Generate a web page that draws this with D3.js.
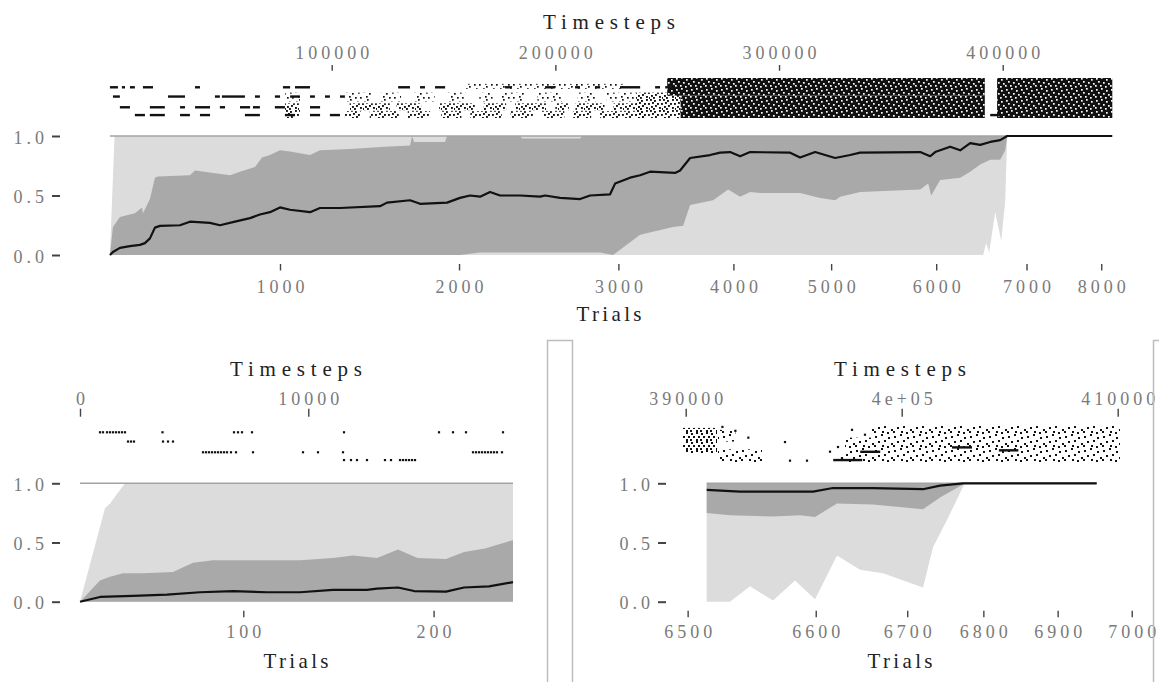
<!DOCTYPE html>
<html>
<head>
<meta charset="utf-8">
<script src="https://cdnjs.cloudflare.com/ajax/libs/d3/7.8.5/d3.min.js"></script>
<style>
  body { margin: 0; background: #fff; }
  svg { display: block; }
</style>
</head>
<body>
<svg id="chart" width="1159" height="682"></svg>
<script>
// trial number -> timestep at which that trial started
const trialMarks = [0, 100, 200, 1000, 2000, 3000, 4000, 5000, 6000, 6500, 6600, 6700, 6800, 6900, 7000, 8000];
const trialSteps = [0, 7153, 15488, 76880, 156930, 228180, 279600, 323300, 370260, 390090, 396020, 400255, 403780, 407220, 410650, 444050];

const yTicks = [0, 0.5, 1];

// ---- full run (top panel), x = timestep, y = proportion ----
const fullStepTicks = [100000, 200000, 300000, 400000];
const fullTrialTicks = [1000, 2000, 3000, 4000, 5000, 6000, 7000, 8000];

const fullMean = [[850,0],[2190,0.025],[5320,0.06],[9790,0.075],[14270,0.085],[16500,0.10],[18740,0.14],
  [20970,0.23],[23210,0.245],[32150,0.25],[36630,0.28],[45570,0.27],[50040,0.25],[56750,0.28],[63460,0.31],
  [67930,0.34],[72410,0.36],[76880,0.40],[81350,0.38],[90300,0.36],[94770,0.395],[103720,0.395],[121600,0.41],
  [124730,0.44],[135020,0.46],[139490,0.43],[151570,0.44],[157380,0.48],[161850,0.50],[166330,0.49],
  [170800,0.53],[175270,0.50],[184220,0.50],[193160,0.49],[195400,0.50],[202100,0.48],[211050,0.47],
  [215520,0.50],[224460,0.51],[226700,0.60],[233410,0.65],[237880,0.67],[242350,0.70],[253530,0.69],
  [255770,0.71],[260240,0.815],[269190,0.84],[273660,0.86],[278130,0.865],[282600,0.83],[287080,0.865],
  [304960,0.86],[309430,0.82],[316140,0.865],[325090,0.815],[331800,0.84],[336270,0.86],[363110,0.865],
  [367580,0.83],[369810,0.865],[376520,0.91],[380990,0.88],[385460,0.94],[389940,0.925],[394410,0.95],
  [398880,0.965],[402010,1.0],[448970,1.0]];
const fullQ75 = [[850,0],[2190,0.235],[5320,0.32],[12030,0.35],[15160,0.40],[15610,0.35],[18740,0.47],
  [20970,0.65],[22320,0.66],[36630,0.67],[38860,0.71],[54520,0.67],[58990,0.70],[65700,0.74],[68830,0.82],
  [72410,0.84],[76880,0.88],[81350,0.87],[90300,0.84],[94770,0.88],[108180,0.89],[123840,0.91],[135020,0.92],
  [135920,1.0],[136810,0.95],[150670,0.95],[151570,1.0],[184220,1.0],[185120,0.98],[211050,0.98],
  [211950,1.0],[402010,1.0]];
const fullQ25 = [[850,0],[157380,0],[166330,0.02],[219990,0.02],[225800,0],[237880,0.17],[252640,0.235],
  [257110,0.245],[260240,0.42],[270530,0.46],[277240,0.55],[282600,0.49],[287080,0.53],[291550,0.52],
  [309430,0.52],[318380,0.48],[325090,0.46],[327330,0.49],[336270,0.53],[363110,0.55],[366690,0.60],
  [368030,0.50],[372050,0.63],[380990,0.65],[385460,0.70],[389940,0.76],[394410,0.80],[398880,0.80],
  [401120,0.88],[402010,1.0]];
const fullMax = [[850,0],[2900,1.0],[402010,1.0]];
const fullMin = [[850,0],[391280,0],[392620,0.1],[393960,0.02],[396650,0.36],[399330,0.12],[401120,0.45],[402010,1.0]];

// raster of events above the top panel: rows A..D
const rasterRows = [3.15, 2.2, 1.1, 0.3];
const fullDashes = [
  [[850,4430],[6200,7600],[9800,12000],[15600,20100],[38900,41100],[78200,81400],[83600,90300],
   [129700,135000],[139500,141700],[146200,150700],[177500,180600],[195400,199900],[208800,211000],
   [217700,220000],[228900,237900],[244600,246800],[249100,252200]],
  [[2200,5300],[26800,34400],[47800,50000],[50900,61200],[65700,67900],[74600,76900],[81400,85800],
   [90300,92500],[97000,99200],[103700,105900]],
  [[5300,9800],[18700,25400],[32200,34400],[38900,45600],[50000,52300],[59000,63500],[64800,67900],
   [74600,79100],[90300,94800]],
  [[12000,16500],[18700,25400],[32200,36600],[41100,45600],[61200,67900],[79100,83600],[90300,94800],
   [99200,103700],[394400,398900]]
];
// [start, end, low row, high row]
const fullSparse = [[79100,85800,1.7,2.6],[105900,118000,1.7,2.6],[122000,131000,1.7,2.6],
  [137000,146000,1.7,2.6],[152000,160000,1.7,2.6],[166000,172000,1.7,2.6],[176000,186000,1.7,2.6],
  [192000,203000,1.7,2.6],[210000,218000,1.7,2.6],[223000,236000,1.7,2.6],[160000,232000,3.0,3.5]];
const fullBusy = [[79100,85800,0,1.5],[108000,126000,0.8,1.5],[129000,140000,0.8,1.5],[148000,164000,0.8,1.5],
  [168000,178000,0.8,1.5],[182000,196000,0.8,1.5],[200000,206000,0.8,1.5],[209000,222000,0.8,1.5],
  [226000,240000,0.8,1.5],[105900,113000,0,0.7],[117000,130000,0,0.7],[134000,144000,0,0.7],
  [149000,158000,0,0.7],[162000,176000,0,0.7],[180000,190000,0,0.7],[194000,204000,0,0.7],
  [208000,216000,0,0.7],[220000,240000,0,0.7],[236000,256000,0,2.6]];
const fullSolid = [[250000,392000,2.3,4.1],[256000,392000,0,2.3],[397500,449000,0,4.1]];

// ---- first trials (bottom left) ----
const earlyStepTicks = [0, 10000];
const earlyTrialTicks = [100, 200];
const earlyMean = [[0,0],[876,0.04],[2321,0.05],[3811,0.06],[5256,0.08],[6702,0.09],[8191,0.08],[9636,0.08],
  [11082,0.10],[12571,0.10],[13009,0.11],[13929,0.12],[14630,0.09],[16031,0.085],[16820,0.12],[17915,0.13],[18966,0.165]];
const earlyQ75 = [[0,0],[876,0.18],[1314,0.21],[1883,0.24],[2760,0.24],[4074,0.25],[4950,0.33],[5826,0.35],
  [9636,0.35],[11082,0.37],[11958,0.39],[13009,0.37],[13929,0.44],[14783,0.37],[16031,0.36],[16820,0.42],
  [17740,0.45],[18966,0.52]];
const earlyQ25 = [[0,0],[18966,0]];
const earlyMax = [[0,0],[1095,0.79],[1314,0.83],[1971,1.0],[18966,1.0]];
const earlyMin = [[0,0],[18966,0]];
const earlyEvents = [
  [876,1007,1183,1314,1445,1577,1708,1840,1971,3614,6745,6921,7096,7534,11564,15725,16338,16908,18528],
  [2102,2234,2365,3636,3855,4074],
  [5388,5519,5650,5782,5913,6045,6176,6308,6439,6614,6833,7578,9768,10425,11520,17214,17346,17477,
   17608,17740,17871,18003,18134,18265,18484],
  [11564,11870,12133,12571,13359,13622,14017,14148,14279,14411,14542,14674]
];

// ---- late trials (bottom right) ----
const lateStepTicks = [390000, 400000, 410000];
const lateStepLabels = ["390000", "4e+05", "410000"];
const lateTrialTicks = [6500, 6600, 6700, 6800, 6900, 7000];
const lateMean = [[390972,0.945],[392514,0.93],[394042,0.93],[395894,0.93],[396819,0.96],[398671,0.96],
  [400986,0.95],[401773,0.98],[402838,1.0],[409028,1.0]];
const lateQ75 = [[390972,1],[402950,1]];
const lateQ25 = [[390972,0.75],[392051,0.73],[394042,0.72],[395292,0.73],[395986,0.715],[397005,0.83],
  [398671,0.82],[400986,0.78],[401773,0.88],[402838,0.99],[402950,1.0]];
const lateMax = [[390972,1],[402950,1]];
const lateMin = [[390972,0],[392051,0],[392977,0.13],[394042,0.01],[395060,0.18],[395986,0.02],[397005,0.39],
  [398069,0.27],[399134,0.24],[400986,0.12],[401449,0.46],[402097,0.69],[402838,0.97],[402950,1.0]];
const lateDots = [[394597,2.15],[394829,0.24],[395616,0.24],[396681,1.16],[397051,1.64],[397236,0.5],
  [391700,3.7],[392300,3.3],[392900,2.6],[397700,3.4],[398300,2.9]];
const lateDashes = [[396829,398171,0.3],[398079,399005,1.15],[402329,403255,1.6],[404500,405400,1.3]];
const lateBusy = [[389875,391449,1.0,3.6]];
const lateSparse = [[391495,392300,2.2,3.4],[391495,393532,0.1,1.4],[398600,410106,0.1,3.9],
  [397375,398600,0.1,2.6]];

const svg = d3.select("#chart");
const defs = svg.append("defs");
const font = "Liberation Serif, Times New Roman, serif";

// speckle textures for dense event runs
function makePattern(id, w, h, bg, fg, pts, s) {
  const pat = defs.append("pattern").attr("id", id)
    .attr("patternUnits", "userSpaceOnUse").attr("width", w).attr("height", h);
  if (bg) pat.append("rect").attr("width", w).attr("height", h).attr("fill", bg);
  pat.selectAll("rect.pt").data(pts).join("rect").attr("class", "pt")
    .attr("x", d => d[0]).attr("y", d => d[1]).attr("width", s).attr("height", s).attr("fill", fg);
}
makePattern("speck", 17, 13, null, "#111",
  [[1,1],[6,0],[12,2],[15,6],[9,5],[3,6],[7,10],[13,11],[0,10],[10,8]], 1.7);
makePattern("speckBusy", 13, 11, null, "#111",
  [[0,0],[4,1],[9,0],[2,3],[7,4],[11,4],[1,7],[5,6],[9,8],[3,9],[12,9]], 1.9);
makePattern("solid", 15, 11, "#111", "#fff",
  [[1,1],[6,0],[11,2],[3,4],[8,5],[13,6],[0,8],[5,8],[10,9]], 1.7);
makePattern("scatter", 19, 14, null, "#111",
  [[1,2],[7,0],[14,3],[10,6],[4,7],[17,9],[8,11],[0,11],[13,12]], 2);
makePattern("scatterBusy", 10, 9, null, "#111", [[1,1],[6,0],[8,4],[3,4],[6,7],[0,7]], 2);

function styleAxis(g, anchorShift) {
  g.select(".domain").remove();
  g.selectAll(".tick line").attr("stroke", "#444").attr("stroke-width", 1.4);
  g.selectAll(".tick text")
    .attr("font-family", font).attr("font-size", 18)
    .attr("fill", "#7a7a7a").attr("letter-spacing", 4)
    .attr("dx", anchorShift);
}

function drawPanel(p) {
  const g = svg.append("g");
  const x = d3.scaleLinear().domain(p.stepDomain).range(p.stepRange);
  const xTrial = d3.scaleLinear().domain(trialMarks).range(trialSteps.map(x));
  const y = d3.scaleLinear().domain([0, 1]).range([p.plotBottom, p.plotTop]);
  const yr = d3.scaleLinear().domain([0, 4]).range([p.rasterBottom, p.rasterTop]);

  const line = d3.line().x(d => x(d[0])).y(d => y(d[1]));
  const band = (hi, lo) => line(hi.concat(lo.slice().reverse())) + "Z";

  // min-max and quartile bands
  g.append("path").attr("d", band(p.max, p.min)).attr("fill", "#dcdcdc");
  g.append("path").attr("d", band(p.q75, p.q25)).attr("fill", "#a9a9a9");

  // reference at 1.0 over the whole run
  const ext = d3.extent(p.mean, d => d[0]);
  g.append("path").attr("d", line([[ext[0], 1], [ext[1], 1]]))
    .attr("fill", "none").attr("stroke", "#a3a3a3").attr("stroke-width", 1.5);

  g.append("path").attr("d", line(p.mean))
    .attr("fill", "none").attr("stroke", "#111").attr("stroke-width", 2.2)
    .attr("stroke-linejoin", "round");

  // event raster
  const r = g.append("g");
  (p.regions || []).forEach(([list, pat]) => {
    r.selectAll(null).data(list).join("rect")
      .attr("x", d => x(d[0])).attr("width", d => x(d[1]) - x(d[0]))
      .attr("y", d => yr(d[3])).attr("height", d => yr(d[2]) - yr(d[3]))
      .attr("fill", `url(#${pat})`);
  });
  (p.rowDashes || []).forEach((list, i) => {
    r.selectAll(null).data(list).join("rect")
      .attr("x", d => x(d[0])).attr("width", d => Math.max(2, x(d[1]) - x(d[0])))
      .attr("y", yr(rasterRows[i]) - 1.2).attr("height", 2.4).attr("fill", "#111");
  });
  (p.rowEvents || []).forEach((list, i) => {
    r.selectAll(null).data(list).join("rect")
      .attr("x", d => x(d) - 1.1).attr("width", 2.2)
      .attr("y", yr(rasterRows[i]) - 1.1).attr("height", 2.2).attr("fill", "#111");
  });
  r.selectAll(null).data(p.dashes || []).join("rect")
    .attr("x", d => x(d[0])).attr("width", d => x(d[1]) - x(d[0]))
    .attr("y", d => yr(d[2]) - 1.2).attr("height", 2.4).attr("fill", "#111");
  r.selectAll(null).data(p.dots || []).join("rect")
    .attr("x", d => x(d[0]) - 1.1).attr("width", 2.2)
    .attr("y", d => yr(d[1]) - 1.1).attr("height", 2.2).attr("fill", "#111");

  // timesteps axis (top)
  const ta = g.append("g").attr("transform", `translate(0,${p.topAxisY})`)
    .call(d3.axisTop(x).tickValues(p.stepTicks).tickSize(p.topTick)
      .tickFormat((d, i) => p.stepLabels ? p.stepLabels[i] : d3.format("d")(d)));
  styleAxis(ta, 2);
  ta.selectAll(".tick text").attr("y", p.topLabelY - p.topAxisY).attr("dy", 0);

  // trials axis (bottom)
  const ba = g.append("g").attr("transform", `translate(0,${p.bottomAxisY})`)
    .call(d3.axisBottom(xTrial).tickValues(p.trialTicks).tickSize(6.5).tickFormat(d3.format("d")));
  styleAxis(ba, 2);
  ba.selectAll(".tick text").attr("y", p.bottomLabelY - p.bottomAxisY).attr("dy", 0);

  // proportion axis
  const la = g.append("g").attr("transform", `translate(${p.yAxisX},0)`)
    .call(d3.axisLeft(y).tickValues(yTicks).tickSize(8).tickPadding(8).tickFormat(d3.format(".1f")));
  styleAxis(la, 4);
  la.selectAll(".tick text").attr("dy", "0.4em");
  la.selectAll(".tick line").attr("stroke-width", 2);

  // titles
  g.append("text").attr("x", p.cx).attr("y", p.titleTopY)
    .attr("text-anchor", "middle").attr("font-family", font).attr("font-size", 21)
    .attr("fill", "#222").attr("textLength", 132).attr("lengthAdjust", "spacing")
    .text("Timesteps");
  g.append("text").attr("x", p.cx).attr("y", p.titleBottomY)
    .attr("text-anchor", "middle").attr("font-family", font).attr("font-size", 21)
    .attr("fill", "#222").attr("textLength", 65).attr("lengthAdjust", "spacing")
    .text("Trials");
}

drawPanel({
  stepDomain: [100000, 400000], stepRange: [331.7, 1002.7],
  plotTop: 136, plotBottom: 255, rasterTop: 79, rasterBottom: 118,
  topAxisY: 70.7, topTick: 5.7, topLabelY: 59.3,
  bottomAxisY: 264, bottomLabelY: 292.7,
  yAxisX: 60, cx: 609, titleTopY: 29.3, titleBottomY: 321,
  stepTicks: fullStepTicks, trialTicks: fullTrialTicks,
  mean: fullMean, q75: fullQ75, q25: fullQ25, max: fullMax, min: fullMin,
  regions: [[fullSparse, "speck"], [fullBusy, "speckBusy"], [fullSolid, "solid"]],
  rowDashes: fullDashes
});

drawPanel({
  stepDomain: [0, 10000], stepRange: [80, 308.3],
  plotTop: 483.3, plotBottom: 601.7, rasterTop: 424, rasterBottom: 463,
  topAxisY: 416.7, topTick: 8, topLabelY: 405,
  bottomAxisY: 610.7, bottomLabelY: 637.7,
  yAxisX: 60, cx: 296, titleTopY: 376, titleBottomY: 668.3,
  stepTicks: earlyStepTicks, trialTicks: earlyTrialTicks,
  mean: earlyMean, q75: earlyQ75, q25: earlyQ25, max: earlyMax, min: earlyMin,
  rowEvents: earlyEvents
});

drawPanel({
  stepDomain: [390000, 410000], stepRange: [685.7, 1117.7],
  plotTop: 483.3, plotBottom: 601.7, rasterTop: 424, rasterBottom: 463,
  topAxisY: 416.7, topTick: 8, topLabelY: 405,
  bottomAxisY: 610.7, bottomLabelY: 637.7,
  yAxisX: 666, cx: 900, titleTopY: 376, titleBottomY: 668.3,
  stepTicks: lateStepTicks, stepLabels: lateStepLabels, trialTicks: lateTrialTicks,
  mean: lateMean, q75: lateQ75, q25: lateQ25, max: lateMax, min: lateMin,
  regions: [[lateBusy, "scatterBusy"], [lateSparse, "scatter"]],
  dots: lateDots, dashes: lateDashes
});

// frame edges of the neighbouring panels
svg.append("path").attr("d", "M547.5,682V340.5H572.5V682M1153.5,682V340.5H1159")
  .attr("fill", "none").attr("stroke", "#bdbdbd").attr("stroke-width", 1.5);
</script>
</body>
</html>
